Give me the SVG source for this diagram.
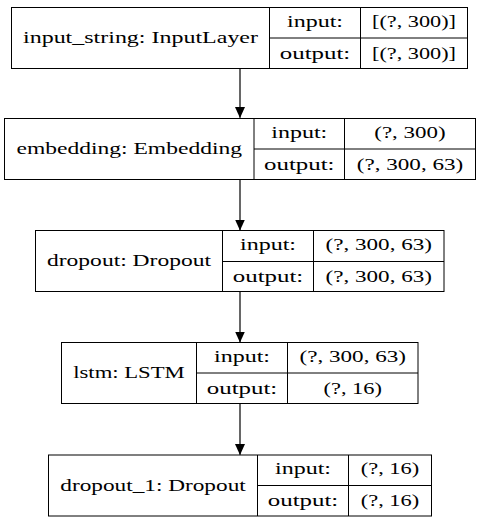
<svg xmlns="http://www.w3.org/2000/svg" width="480" height="523" viewBox="0 0 480 523">
<style>
rect.n{fill:#fff;stroke:#000;stroke-width:1}
line.d{stroke:#000;stroke-width:1}
text{font-family:"Liberation Serif","Times New Roman",serif;font-size:17.5px;fill:#000;text-anchor:middle}
.e{stroke:#000;stroke-width:1.2;fill:none}
</style>
<defs>
<marker id="ah" markerWidth="10" markerHeight="12" refX="11" refY="5" orient="auto" markerUnits="userSpaceOnUse">
<path d="M0,0 L11,5 L0,10 Z" fill="#000"/>
</marker>
</defs>
<rect width="480" height="523" fill="#fff"/>
<g id="connectors">
<line class="e" x1="240" y1="68.5" x2="240" y2="118" marker-end="url(#ah)"/>
<line class="e" x1="240" y1="179.5" x2="240" y2="230.5" marker-end="url(#ah)"/>
<line class="e" x1="240" y1="291.5" x2="240" y2="342.5" marker-end="url(#ah)"/>
<line class="e" x1="240" y1="403.5" x2="240" y2="455" marker-end="url(#ah)"/>
</g>
<g id="input_string">
<rect class="n" x="11.5" y="7.5" width="456" height="61"/>
<line class="d" x1="269.5" y1="7.5" x2="269.5" y2="68.5"/>
<line class="d" x1="360.5" y1="7.5" x2="360.5" y2="68.5"/>
<line class="d" x1="269.5" y1="38" x2="467.5" y2="38"/>
<text x="140.5" y="43" textLength="235" lengthAdjust="spacingAndGlyphs">input_string: InputLayer</text>
<text x="315" y="26.5" textLength="56" lengthAdjust="spacingAndGlyphs">input:</text>
<text x="315" y="58.5" textLength="70.5" lengthAdjust="spacingAndGlyphs">output:</text>
<text x="414" y="26.5" textLength="84" lengthAdjust="spacingAndGlyphs">[(?, 300)]</text>
<text x="414" y="58.5" textLength="84" lengthAdjust="spacingAndGlyphs">[(?, 300)]</text>
</g>
<g id="embedding">
<rect class="n" x="4.5" y="118.5" width="471" height="61"/>
<line class="d" x1="254" y1="118.5" x2="254" y2="179.5"/>
<line class="d" x1="344.5" y1="118.5" x2="344.5" y2="179.5"/>
<line class="d" x1="254" y1="149" x2="475.5" y2="149"/>
<text x="129.25" y="154" textLength="225.5" lengthAdjust="spacingAndGlyphs">embedding: Embedding</text>
<text x="299.25" y="137.5" textLength="56" lengthAdjust="spacingAndGlyphs">input:</text>
<text x="299.25" y="169.5" textLength="70.5" lengthAdjust="spacingAndGlyphs">output:</text>
<text x="410" y="137.5" textLength="71.5" lengthAdjust="spacingAndGlyphs">(?, 300)</text>
<text x="410" y="169.5" textLength="106.5" lengthAdjust="spacingAndGlyphs">(?, 300, 63)</text>
</g>
<g id="dropout">
<rect class="n" x="35.5" y="230.5" width="408.5" height="61"/>
<line class="d" x1="222.5" y1="230.5" x2="222.5" y2="291.5"/>
<line class="d" x1="313.5" y1="230.5" x2="313.5" y2="291.5"/>
<line class="d" x1="222.5" y1="261.5" x2="444" y2="261.5"/>
<text x="129" y="266" textLength="164" lengthAdjust="spacingAndGlyphs">dropout: Dropout</text>
<text x="268" y="249.5" textLength="56" lengthAdjust="spacingAndGlyphs">input:</text>
<text x="268" y="281.5" textLength="70.5" lengthAdjust="spacingAndGlyphs">output:</text>
<text x="378.75" y="249.5" textLength="106.5" lengthAdjust="spacingAndGlyphs">(?, 300, 63)</text>
<text x="378.75" y="281.5" textLength="106.5" lengthAdjust="spacingAndGlyphs">(?, 300, 63)</text>
</g>
<g id="lstm">
<rect class="n" x="61.5" y="342.5" width="356.5" height="61"/>
<line class="d" x1="196.5" y1="342.5" x2="196.5" y2="403.5"/>
<line class="d" x1="287.5" y1="342.5" x2="287.5" y2="403.5"/>
<line class="d" x1="196.5" y1="373" x2="418" y2="373"/>
<text x="129" y="378" textLength="111.5" lengthAdjust="spacingAndGlyphs">lstm: LSTM</text>
<text x="242" y="361.5" textLength="56" lengthAdjust="spacingAndGlyphs">input:</text>
<text x="242" y="393.5" textLength="70.5" lengthAdjust="spacingAndGlyphs">output:</text>
<text x="352.75" y="361.5" textLength="106.5" lengthAdjust="spacingAndGlyphs">(?, 300, 63)</text>
<text x="352.75" y="393.5" textLength="58.5" lengthAdjust="spacingAndGlyphs">(?, 16)</text>
</g>
<g id="dropout_1">
<rect class="n" x="48.5" y="455" width="383" height="61"/>
<line class="d" x1="257.5" y1="455" x2="257.5" y2="516"/>
<line class="d" x1="348.5" y1="455" x2="348.5" y2="516"/>
<line class="d" x1="257.5" y1="485.5" x2="431.5" y2="485.5"/>
<text x="153" y="490.5" textLength="185.5" lengthAdjust="spacingAndGlyphs">dropout_1: Dropout</text>
<text x="303" y="474" textLength="56" lengthAdjust="spacingAndGlyphs">input:</text>
<text x="303" y="506" textLength="70.5" lengthAdjust="spacingAndGlyphs">output:</text>
<text x="390" y="474" textLength="58.5" lengthAdjust="spacingAndGlyphs">(?, 16)</text>
<text x="390" y="506" textLength="58.5" lengthAdjust="spacingAndGlyphs">(?, 16)</text>
</g>
</svg>
